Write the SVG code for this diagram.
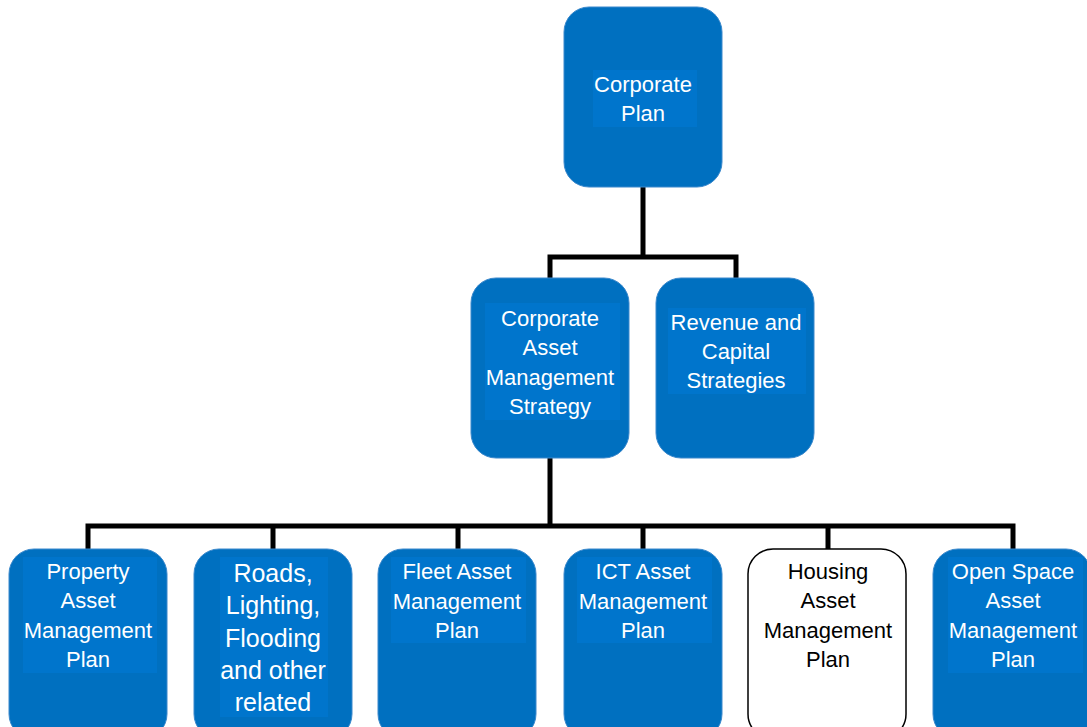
<svg xmlns="http://www.w3.org/2000/svg" width="1087" height="727" viewBox="0 0 1087 727">
<style>
.box{fill:#0070C0;stroke:#3A88CC;stroke-width:1}
.wbox{fill:#FFFFFF;stroke:#000000;stroke-width:1.5}
.inner{fill:#0075CC;stroke:none}
.t{font-family:"Liberation Sans",Arial,sans-serif;font-size:22px;fill:#FFFFFF;text-anchor:middle}
.big{font-size:25px}
.dark{fill:#000000}
.conn{fill:none;stroke:#000000;stroke-width:5;stroke-linejoin:miter}
</style>
<rect width="1087" height="727" fill="#FFFFFF"/>
<g id="connectors">
<path class="conn" d="M643,187 V257 M550,278 V257 H736 V278"/>
<path class="conn" d="M550,458 V526 M88,549 V526 H1013 V549 M273,526 V549 M458,526 V549 M643,526 V549 M828,526 V549"/>
</g>
<g id="corporate-plan">
<rect class="box" x="564" y="7" width="158" height="180" rx="25"/>
<rect class="inner" x="593" y="70" width="104" height="57"/>
<text class="t" x="643" y="92">Corporate</text>
<text class="t" x="643" y="121">Plan</text>
</g>
<g id="corporate-asset-management-strategy">
<rect class="box" x="471" y="278" width="158" height="180" rx="25"/>
<rect class="inner" x="485" y="303" width="135" height="117"/>
<text class="t" x="550" y="326">Corporate</text>
<text class="t" x="550" y="355">Asset</text>
<text class="t" x="550" y="385">Management</text>
<text class="t" x="550" y="414">Strategy</text>
</g>
<g id="revenue-capital-strategies">
<rect class="box" x="656" y="278" width="158" height="180" rx="25"/>
<rect class="inner" x="668" y="308" width="138" height="86"/>
<text class="t" x="736" y="330">Revenue and</text>
<text class="t" x="736" y="359">Capital</text>
<text class="t" x="736" y="388">Strategies</text>
</g>
<g id="property-asset-management-plan">
<rect class="box" x="9" y="549" width="158" height="190" rx="25"/>
<rect class="inner" x="23" y="557" width="134" height="116"/>
<text class="t" x="88" y="579">Property</text>
<text class="t" x="88" y="608">Asset</text>
<text class="t" x="88" y="638">Management</text>
<text class="t" x="88" y="667">Plan</text>
</g>
<g id="roads-lighting-flooding">
<rect class="box" x="194" y="549" width="158" height="190" rx="25"/>
<rect class="inner" x="220" y="557" width="108" height="160"/>
<text class="t big" x="273" y="582">Roads,</text>
<text class="t big" x="273" y="614">Lighting,</text>
<text class="t big" x="273" y="647">Flooding</text>
<text class="t big" x="273" y="679">and other</text>
<text class="t big" x="273" y="711">related</text>
</g>
<g id="fleet-asset-management-plan">
<rect class="box" x="378" y="549" width="158" height="190" rx="25"/>
<rect class="inner" x="391" y="557" width="135" height="86"/>
<text class="t" x="457" y="579">Fleet Asset</text>
<text class="t" x="457" y="609">Management</text>
<text class="t" x="457" y="638">Plan</text>
</g>
<g id="ict-asset-management-plan">
<rect class="box" x="564" y="549" width="158" height="190" rx="25"/>
<rect class="inner" x="577" y="557" width="135" height="86"/>
<text class="t" x="643" y="579">ICT Asset</text>
<text class="t" x="643" y="609">Management</text>
<text class="t" x="643" y="638">Plan</text>
</g>
<g id="housing-asset-management-plan">
<rect class="wbox" x="748" y="549" width="158" height="190" rx="25"/>
<text class="t dark" x="828" y="579">Housing</text>
<text class="t dark" x="828" y="608">Asset</text>
<text class="t dark" x="828" y="638">Management</text>
<text class="t dark" x="828" y="667">Plan</text>
</g>
<g id="open-space-asset-management-plan">
<rect class="box" x="933" y="549" width="158" height="190" rx="25"/>
<rect class="inner" x="948" y="557" width="135" height="116"/>
<text class="t" x="1013" y="579">Open Space</text>
<text class="t" x="1013" y="608">Asset</text>
<text class="t" x="1013" y="638">Management</text>
<text class="t" x="1013" y="667">Plan</text>
</g>
</svg>
